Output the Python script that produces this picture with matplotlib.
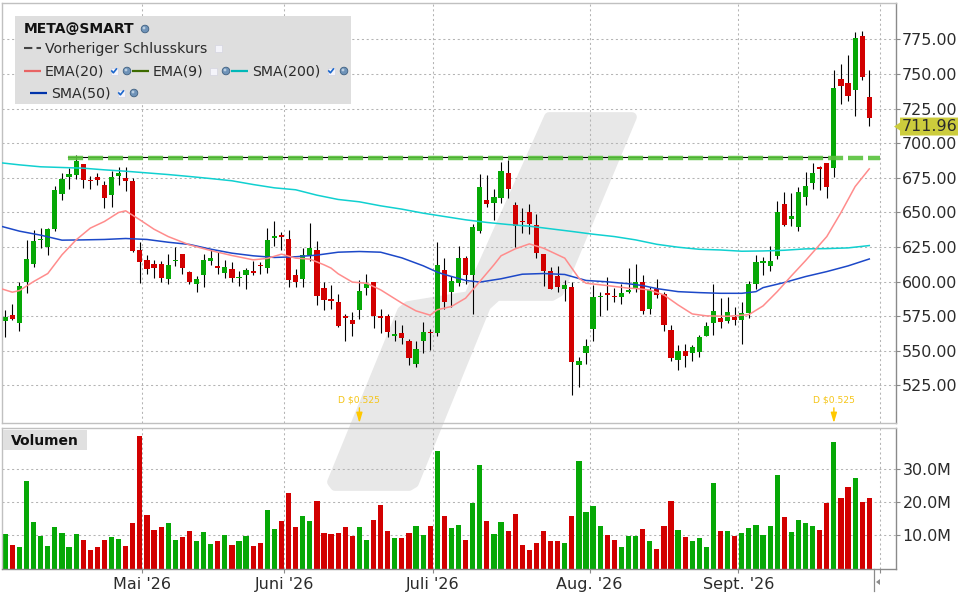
import numpy as np
import matplotlib
matplotlib.use("Agg")
import matplotlib.pyplot as plt
from matplotlib.patches import Polygon, Rectangle, Circle

plt.rcParams['font.family'] = ['DejaVu Sans']

OPEN = [571.7,576.0,570.4,600.0,613.0,629.7,625.3,638.3,662.9,675.2,
        677.3,685.0,673.5,675.6,669.9,662.2,675.9,674.9,672.8,622.9,
        615.7,612.8,612.8,601.5,614.5,620.0,607.0,597.9,604.4,615.2,
        611.4,606.5,609.2,602.2,604.4,607.7,612.1,610.1,631.8,633.7,
        630.9,604.9,601.5,619.3,622.9,595.5,587.5,585.3,575.2,572.3,
        579.8,595.0,599.8,575.2,575.2,560.3,563.0,557.2,540.1,556.7,
        563.7,562.5,608.5,592.1,599.3,617.1,604.4,636.2,659.0,657.1,
        660.7,678.5,655.4,643.9,650.4,641.0,620.0,607.7,604.1,594.7,
        596.2,539.4,548.7,565.4,588.5,591.8,589.7,588.5,592.8,595.0,
        599.7,580.5,594.4,591.3,565.1,543.6,549.6,548.7,549.4,561.0,
        570.4,573.5,571.8,574.7,572.5,577.3,598.5,613.7,611.5,618.8,
        656.1,645.5,639.5,661.4,671.5,682.8,685.7,682.3,746.4,743.5,
        738.7,777.4,733.4]
CLOSE = [574.5,572.6,596.9,616.4,629.4,630.9,638.1,666.3,674.0,677.8,
         687.4,673.0,672.3,673.0,660.7,675.6,678.5,672.3,622.4,613.8,
         609.4,610.1,602.9,612.1,615.7,610.1,600.0,602.0,615.7,617.1,
         610.1,610.6,602.9,603.4,608.5,606.5,610.9,630.1,633.0,632.5,
         600.8,600.0,619.3,624.4,589.9,587.0,586.3,568.2,573.3,569.0,
         593.3,598.4,574.8,574.0,563.2,562.2,558.9,545.1,551.4,563.7,
         562.5,612.1,584.9,600.5,617.1,604.4,639.5,668.4,655.7,661.2,
         680.0,667.2,640.2,642.7,641.9,620.3,607.3,594.3,595.7,597.6,
         542.2,542.7,553.6,589.0,589.7,590.6,588.5,591.8,594.0,599.8,
         579.0,594.2,590.6,568.9,545.1,549.6,546.5,552.8,560.0,567.9,
         578.8,571.1,578.1,572.5,577.1,598.3,614.2,614.9,614.9,650.3,
         641.1,647.4,664.7,669.1,678.5,681.6,668.6,739.9,741.6,734.3,
         776.0,748.1,718.4]
HIGH = [579.6,583.9,599.8,630.1,637.4,638.8,638.8,668.7,678.3,681.9,
        691.5,685.0,676.4,678.5,672.3,680.0,682.9,682.9,674.9,628.7,
        619.3,615.7,615.0,620.0,625.3,620.0,607.7,604.1,620.0,623.6,
        621.5,615.7,614.2,607.7,609.9,615.0,614.2,638.8,643.9,635.9,
        637.4,609.2,624.4,642.4,629.4,599.8,597.6,591.1,576.7,578.1,
        601.2,605.6,599.8,580.3,576.7,572.3,568.7,558.6,557.2,570.9,
        565.8,628.7,617.1,604.1,625.8,618.6,641.7,677.8,677.1,667.0,
        686.5,687.9,657.6,653.3,656.1,648.9,620.0,610.6,611.4,601.2,
        599.8,545.6,558.6,597.6,592.6,603.4,595.5,598.4,609.9,612.8,
        604.8,596.1,601.9,592.7,568.7,554.2,554.9,554.2,561.4,570.8,
        598.3,588.2,588.9,581.7,585.3,600.5,619.2,617.8,625.7,658.2,
        664.7,664.0,668.4,679.2,685.7,683.5,685.7,752.9,757.2,763.7,
        780.3,781.1,752.9]
LOW = [559.6,571.9,564.4,591.4,610.6,623.9,619.3,636.2,658.6,667.0,
       674.4,667.9,667.0,669.4,652.8,653.5,669.4,665.1,621.0,599.3,
       605.8,602.2,600.0,597.9,610.9,605.8,597.9,592.1,596.4,612.3,
       605.8,602.9,600.0,597.1,594.3,604.4,605.1,606.5,625.8,622.9,
       596.4,596.4,595.7,615.2,582.7,579.1,580.5,566.8,556.7,560.3,
       572.6,590.6,566.1,562.5,559.6,557.4,555.2,539.4,538.6,548.7,
       550.4,560.3,580.3,581.3,597.1,597.9,576.9,635.4,653.5,644.8,
       656.4,660.0,625.1,635.4,634.5,616.7,597.1,594.3,592.8,586.3,
       517.7,523.5,540.1,557.4,574.8,579.8,584.9,584.1,591.4,592.8,
       576.9,576.9,588.4,564.6,542.9,536.4,538.6,542.4,545.8,561.0,
       561.7,566.7,570.4,568.9,555.2,574.0,594.9,605.0,607.9,616.6,
       640.4,640.4,636.8,655.6,667.2,666.4,660.7,675.8,728.6,730.7,
       719.9,745.9,712.7]
VOLUME = [10.7,7.4,6.8,26.5,14.3,10.1,7.1,12.8,11.0,6.8,
          10.7,8.9,5.9,6.8,8.9,9.8,9.2,7.1,14.0,40.4,
          16.5,11.9,12.8,14.0,8.9,9.8,11.6,8.6,11.3,7.7,
          8.6,10.4,7.4,8.6,10.1,7.1,8.0,18.0,12.2,14.6,
          23.1,12.8,15.9,14.6,20.7,
          11.0,10.7,11.0,12.8,10.1,12.8,8.9,14.9,19.5,11.6,
          9.5,9.5,11.0,13.1,10.4,13.1,35.6,16.2,12.5,13.4,
          8.9,20.1,31.6,14.6,10.7,14.3,11.6,16.8,7.4,5.9,
          8.0,11.6,8.6,8.6,8.0,15.9,32.8,17.4,19.2,13.1,
          10.4,8.9,6.8,10.1,10.1,
          12.2,8.6,6.2,13.1,20.7,11.9,9.8,8.6,9.5,6.8,
          25.9,11.6,11.6,10.1,11.0,12.5,13.4,10.4,13.1,28.6,
          15.6,11.3,14.9,14.0,13.1,11.9,20.1,38.6,21.6,24.9,
          27.7,20.4,21.6]

SMA200_IDX = [-1,2,5,8,11,14,17,20,23,26,29,32,35,38,41,44,47,50,53,56,59,62,65,68,71,74,77,80,83,86,89,92,95,98,101,104,107,110,113,116,119,122]
SMA200 = [686.0,684.3,682.9,682.4,681.9,680.7,679.7,678.5,677.3,675.9,674.4,672.8,670.1,667.7,666.3,662.4,
          659.3,657.6,654.7,652.3,649.4,647.0,644.6,642.7,641.2,640.0,638.1,636.2,634.2,632.5,630.1,
          626.9,624.8,623.3,622.8,621.9,622.1,622.6,623.6,623.8,624.3,626.0]
SMA50_IDX = [-1,2,5,8,11,14,17,20,23,26,29,32,35,38,41,44,47,50,53,56,59,61,62,65,67,70,73,76,79,82,85,88,90,92,95,98,101,104,106,107,110,113,116,119,122]
SMA50 = [640.5,636.4,633.5,629.9,630.1,630.4,631.1,630.4,628.4,626.8,623.4,620.5,618.6,617.4,617.9,619.1,
         621.2,621.7,621.2,617.1,611.4,606.8,605.1,600.8,599.6,602.0,605.3,605.8,605.1,600.8,599.8,598.4,
         597.1,594.9,592.7,592.0,591.5,591.5,592.7,595.6,599.3,603.6,607.2,611.3,616.3]
EMA20_IDX = [-1,1,2,4,6,8,10,12,14,16,17,19,21,23,26,29,32,35,37,39,41,43,45,46,47,49,51,53,56,58,60,61,63,65,67,69,70,72,74,76,78,79,81,82,85,88,89,91,93,95,97,99,102,105,107,109,111,113,116,118,120,122]
EMA20 = [595.5,592.3,593.5,600.0,605.8,619.3,630.1,638.6,643.4,649.9,651.1,644.6,637.8,632.5,626.5,622.4,618.8,615.7,616.7,619.8,616.9,616.2,
         612.1,609.7,605.6,599.6,598.8,594.0,584.4,578.8,575.7,579.6,582.0,588.0,600.0,612.1,618.6,623.6,627.2,624.1,619.3,616.9,602.4,598.8,597.1,595.2,595.0,
         593.9,590.3,583.1,576.6,575.2,574.9,576.1,582.4,592.7,604.1,615.1,632.5,649.8,668.6,681.4]

PRICE_TICKS = [525, 550, 575, 600, 625, 650, 675, 700, 725, 750, 775]
VOLUME_TICKS = [10, 20, 30]
MONTH_POS = [19.35, 39.4, 60.4, 82.5, 103.5, 123.5]
MONTH_LABELS = ["Mai '26", "Juni '26", "Juli '26", "Aug. '26", "Sept. '26", ""]
PREV_LEVEL = 690.0
LEVEL_START, LEVEL_END, BLACK_END = 8.85, 123.5, 116.2
LAST_PRICE = 711.96
DIVIDEND_IDX = [50, 117]
DIVIDEND_LABEL = "D $0.525"

W, H = 960, 600
GREEN, RED = '#06a806', '#d20000'
TXT = '#2b2b2b'
GRID = '#b4b4b4'
LIGHT = '#c0c0c0'
DARK = '#8a8a8a'
DASH = (0, (2.0, 2.6))

fig = plt.figure(figsize=(W / 100, H / 100), dpi=100, facecolor='white')


def axes_px(x0, y0, x1, y1, **kw):
    return fig.add_axes([x0 / W, 1 - y1 / H, (x1 - x0) / W, (y1 - y0) / H], **kw)


# pixel overlay behind the panels: watermark
back = axes_px(0, 0, W, H, zorder=0)
back.set_xlim(0, W); back.set_ylim(H, 0); back.axis('off')
mark = [(549, 117), (632, 117), (559, 292), (552, 296), (497, 296), (486, 306), (414, 483), (409, 486),
        (335, 486), (332, 482), (402, 311), (408, 306), (469, 296)]
back.add_patch(Polygon(mark, closed=True, fc='#e8e8e8', ec='#e8e8e8', lw=7, joinstyle='round'))

x = np.arange(len(OPEN))
o, c, h, l = map(np.array, (OPEN, CLOSE, HIGH, LOW))
up = c >= o
cols = [GREEN if u else RED for u in up]
XLIM = (-0.537, 125.73)
BW = 5.2 / 7.082

# price panel
ax = axes_px(1.5, 2.5, 895.7, 423, zorder=1)
ax.patch.set_visible(False)
ax.set_xlim(*XLIM)
ax.set_ylim(497.8, 801.6)
ax.set_yticks(PRICE_TICKS)
ax.set_yticklabels([f"{t:.2f}" for t in PRICE_TICKS])
ax.set_xticks(MONTH_POS)
ax.grid(True, color=GRID, lw=0.75, linestyle=DASH, zorder=0)
ax.set_axisbelow(True)
ax.yaxis.tick_right()
ax.tick_params(axis='y', length=3, width=0.8, color=DARK, labelsize=11.4, labelcolor=TXT, pad=1.5)
ax.tick_params(axis='x', length=0, labelbottom=False)
ax.vlines(x, l, h, color='black', lw=0.8, zorder=2)
ax.bar(x, np.abs(c - o), bottom=np.minimum(o, c), width=BW, color=cols, lw=0, zorder=2.5)
ax.plot(SMA200_IDX, SMA200, color='#10d0d0', lw=1.1, zorder=3)
ax.plot(SMA50_IDX, SMA50, color='#1c48c8', lw=1.1, zorder=3)
ax.plot(EMA20_IDX, EMA20, color='#ff8c8c', lw=1.1, zorder=3)
ax.plot([LEVEL_START, BLACK_END], [PREV_LEVEL, PREV_LEVEL], color='black', lw=0.8, zorder=3.2)
ax.plot([LEVEL_START, LEVEL_END], [PREV_LEVEL - 0.8, PREV_LEVEL - 0.8], color='#58c23c', alpha=0.9, lw=3.2,
        linestyle=(0, (3.4, 1.1)), solid_capstyle='butt', dash_capstyle='butt', zorder=3.4)
for s in ax.spines.values():
    s.set_color(LIGHT); s.set_linewidth(1.0)
ax.spines['right'].set_color(DARK)
for d in DIVIDEND_IDX:
    ax.annotate('', xy=(d, 0.0), xycoords=('data', 'axes fraction'),
                xytext=(d, 0.036), textcoords=('data', 'axes fraction'),
                arrowprops=dict(arrowstyle='-|>,head_width=0.18,head_length=0.6', color='#ffc800', lw=1.0,
                                shrinkA=0, shrinkB=0))
    ax.text(d, 0.055, DIVIDEND_LABEL, transform=ax.get_xaxis_transform(), ha='center', va='center',
            fontsize=6.6, color='#f5c518', zorder=4)

# volume panel
av = axes_px(1.5, 428, 895.7, 569, zorder=1)
av.patch.set_visible(False)
av.set_xlim(*XLIM)
av.set_ylim(-0.2, 42.5)
av.set_yticks(VOLUME_TICKS)
av.set_yticklabels([f"{t:.1f}M" for t in VOLUME_TICKS])
av.set_xticks(MONTH_POS)
av.set_xticklabels(MONTH_LABELS)
av.grid(True, color=GRID, lw=0.75, linestyle=DASH, zorder=0)
av.set_axisbelow(True)
av.yaxis.tick_right()
av.tick_params(axis='y', length=3, width=0.8, color=DARK, labelsize=11.4, labelcolor=TXT, pad=2)
av.tick_params(axis='x', length=3, width=0.8, color=DARK, labelsize=11.5, labelcolor=TXT, pad=3)
av.bar(x, VOLUME, bottom=-0.2, width=BW, color=cols, lw=0, zorder=2)
for s in av.spines.values():
    s.set_color(LIGHT); s.set_linewidth(1.0)
av.spines['right'].set_color(DARK)
av.spines['bottom'].set_color(DARK)

# pixel overlay in front: legend, tags
top = axes_px(0, 0, W, H, zorder=5)
top.set_xlim(0, W); top.set_ylim(H, 0); top.axis('off')
top.patch.set_visible(False)


def globe(cx, cy):
    top.add_patch(Circle((cx, cy), 3.8, fc='#6f93b8', ec='#3f5f80', lw=0.6))
    top.add_patch(Circle((cx - 1, cy - 1), 1.4, fc='#b9cde0', ec='none'))


def check(cx, cy, on=True):
    top.add_patch(Rectangle((cx - 3.5, cy - 3.5), 7, 7, fc='#f4f4fa', ec='#d4d4e0', lw=0.5))
    if on:
        top.plot([cx - 2.2, cx - 0.6, cx + 2.4], [cy, cy + 1.8, cy - 2.0], color='#1a66cc', lw=1.2)


top.add_patch(Rectangle((15, 16), 336, 88, fc='#dedede', ec='none'))
top.text(23.3, 29, "META@SMART", fontsize=10, fontweight='bold', color='#111111', va='center', ha='left')
globe(145, 29)
top.plot([24, 41], [48, 48], color='#444444', lw=1.5, linestyle=(0, (4, 2)))
top.text(45, 48.5, "Vorheriger Schlusskurs", fontsize=10.2, color=TXT, va='center', ha='left')
check(218, 48, on=False)

rows = [(24, 41, 71, '#e86464', "EMA(20)", 45, 114, True, 127),
        (132, 149, 71, '#3d6b00', "EMA(9)", 153, 213, False, 226),
        (231, 248, 71, '#00b8b8', "SMA(200)", 252, 331, True, 344),
        (30, 47, 93, '#0033aa', "SMA(50)", 51, 121, True, 134)]
for x0, x1, yy, col, name, tx, cb, on, gl in rows:
    top.plot([x0, x1], [yy, yy], color=col, lw=1.6, solid_capstyle='butt')
    top.text(tx, yy + 0.5, name, fontsize=10.2, color=TXT, va='center', ha='left')
    check(cb, yy, on=on)
    globe(gl, yy)

top.add_patch(Rectangle((3, 430), 84, 20, fc='#e0e0e0', ec='none'))
top.text(11, 441, "Volumen", fontsize=10, fontweight='bold', color='#111111', va='center', ha='left')

tag_y = 39.3 + (775 - LAST_PRICE) * 1.384
top.add_patch(Polygon([(894, tag_y), (900, tag_y - 4), (900, tag_y - 9), (958, tag_y - 9),
                       (958, tag_y + 9), (900, tag_y + 9), (900, tag_y + 4)],
                      closed=True, fc='#cccc3c', ec='none', zorder=4))
top.text(901.5, tag_y + 0.3, f"{LAST_PRICE:.2f}", fontsize=11.4, color=TXT, va='center', ha='left', zorder=5)

top.plot([873.5, 873.5], [569, 591], color=DARK, lw=0.9)
top.add_patch(Polygon([(876, 582), (880, 579), (880, 585)], closed=True, fc='#8c8c8c', ec='none'))

fig.savefig('out.png', dpi=100, facecolor='white')
